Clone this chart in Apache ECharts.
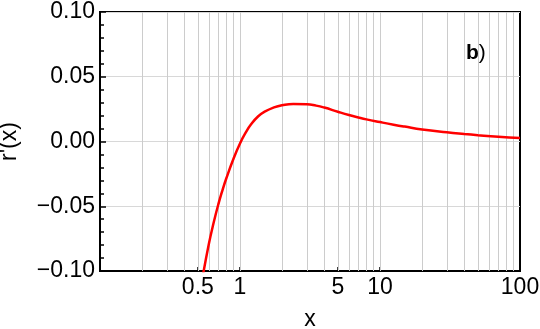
<!DOCTYPE html>
<html>
<head>
<meta charset="utf-8">
<script src="https://cdn.jsdelivr.net/npm/echarts@6/dist/echarts.min.js"></script>
<style>
  html, body { margin: 0; padding: 0; background: #fff; }
  #chart { width: 540px; height: 329px; }
</style>
</head>
<body>
<div id="chart"></div>
<script>
// curve
var xs = [0.54, 0.6, 0.65, 0.7, 0.75, 0.8, 0.9, 1, 1.1, 1.2, 1.35, 1.5, 1.75, 2, 2.4, 3, 3.5, 4,
          5, 6, 7, 8, 10, 12.5, 15, 20, 30, 40, 50, 70, 100];
var ys = [-0.105, -0.0788, -0.0622, -0.0486, -0.0375, -0.0282, -0.0131, -0.0015, 0.0070, 0.0133,
          0.0195, 0.0230, 0.0263, 0.0280, 0.0290, 0.0288, 0.0277, 0.0262, 0.0230, 0.0205, 0.0186,
          0.0171, 0.0150, 0.0130, 0.0115, 0.0093, 0.0071, 0.0058, 0.0049, 0.0037, 0.0027];

// x tick labels and log grid lines
var xLabels = [0.5, 1, 5, 10, 100];
var xTicks = [0.5, 1, 5, 10];
var gridXs = [0.2, 0.3, 0.4, 0.5, 0.6, 0.7, 0.8, 0.9, 1, 2, 3, 4, 5, 6, 7, 8, 9, 10,
              20, 30, 40, 50, 60, 70, 80, 90];

var font = 'Liberation Sans';

var points = [];
for (var i = 0; i < xs.length; i++) {
    points.push([xs[i], ys[i]]);
}

var gridLines = [];
for (var j = 0; j < gridXs.length; j++) {
    gridLines.push({ xAxis: gridXs[j] });
}

// -0.05 -> "−0.05"
function fmtY(v) {
    var s = Math.abs(v).toFixed(2);
    if (v < -1e-9) {
        return '\u2212' + s;
    }
    return s;
}

var myChart = echarts.init(document.getElementById('chart'), null, { renderer: 'canvas' });
var option = {
    animation: false,
    grid: {
        left: 100,
        right: 20,
        top: 12,
        bottom: 58,
        outerBoundsMode: 'none',
        containLabel: false,
        show: true,
        borderColor: '#000',
        borderWidth: 2
    },
    xAxis: {
        type: 'log',
        logBase: 10,
        min: 0.1,
        max: 100,
        name: 'x',
        nameLocation: 'middle',
        nameGap: 37,
        nameTextStyle: { fontFamily: font, fontSize: 23, color: '#000' },
        axisLine: { onZero: false, lineStyle: { color: '#000', width: 2 } },
        axisTick: { inside: true, length: 4, customValues: xTicks, lineStyle: { color: '#000', width: 1.5 } },
        axisLabel: { customValues: xLabels, fontFamily: font, fontSize: 23, color: '#000', margin: 5 },
        splitLine: { show: false }
    },
    yAxis: {
        type: 'value',
        min: -0.1,
        max: 0.1,
        interval: 0.05,
        name: "r'(x)",
        nameLocation: 'middle',
        nameGap: 79,
        nameTextStyle: { fontFamily: font, fontSize: 23, color: '#000' },
        axisLine: { lineStyle: { color: '#000', width: 2 } },
        axisTick: { inside: true, length: 6, lineStyle: { color: '#000', width: 1.5 } },
        minorTick: { show: true, splitNumber: 5, length: 4, lineStyle: { color: '#000', width: 1.5 } },
        axisLabel: { formatter: fmtY, fontFamily: font, fontSize: 23, color: '#000', margin: 5 },
        splitLine: { show: true, lineStyle: { color: '#d8d8d8', width: 1 } }
    },
    graphic: [{
        type: 'text',
        left: 466,
        top: 43,
        style: {
            text: '{b|b}{p|)}',
            rich: {
                b: { fontFamily: font, fontSize: 21, fontWeight: 'bold', fill: '#000' },
                p: { fontFamily: font, fontSize: 21, fill: '#000' }
            }
        }
    }],
    series: [{
        type: 'line',
        data: points,
        smooth: true,
        showSymbol: false,
        lineStyle: { color: '#ff0000', width: 2.5 },
        itemStyle: { color: '#ff0000' },
        markLine: {
            silent: true,
            symbol: 'none',
            label: { show: false },
            lineStyle: { color: '#cccccc', width: 1, type: 'solid' },
            data: gridLines,
            z: 1
        }
    }]
};
myChart.setOption(option);
</script>
</body>
</html>
